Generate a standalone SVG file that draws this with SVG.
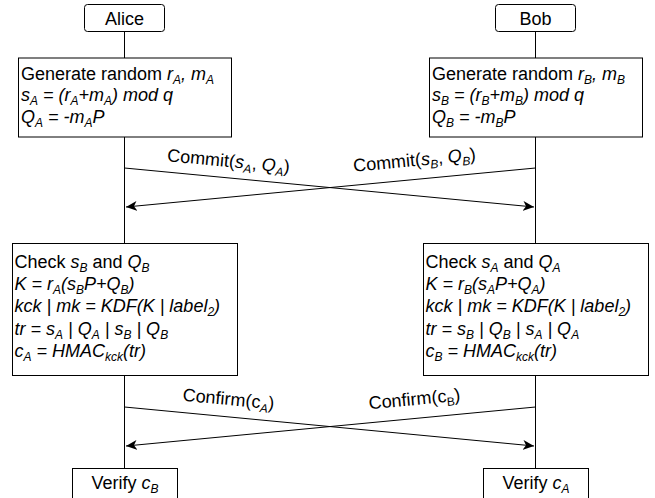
<svg xmlns="http://www.w3.org/2000/svg" width="655" height="498" viewBox="0 0 655 498">
<defs>
<style>
text{font-family:"Liberation Sans",Arial,sans-serif;font-size:18px;fill:#000}
.i{font-style:italic}
.s{font-size:12px}
.box{fill:#fff;stroke:#000;stroke-width:1}
.ln{fill:none;stroke:#000;stroke-width:1}
</style>
<marker id="ah" markerWidth="12" markerHeight="10" refX="11" refY="5" orient="auto" markerUnits="userSpaceOnUse">
<path d="M0,0 L11,5 L0,10 L3,5 Z" fill="#000"/>
</marker>
</defs>
<rect width="655" height="498" fill="#fff"/>
<g id="connectors">
<line class="ln" x1="124.5" y1="31" x2="124.5" y2="58"/>
<line class="ln" x1="124.5" y1="137" x2="124.5" y2="243"/>
<line class="ln" x1="124.5" y1="376" x2="124.5" y2="468"/>
<line class="ln" x1="535.5" y1="31" x2="535.5" y2="58"/>
<line class="ln" x1="535.5" y1="137" x2="535.5" y2="243"/>
<line class="ln" x1="535.5" y1="376" x2="535.5" y2="468"/>
<line class="ln" x1="124.5" y1="168" x2="534" y2="207" marker-end="url(#ah)"/>
<line class="ln" x1="535.5" y1="168" x2="126" y2="207" marker-end="url(#ah)"/>
<line class="ln" x1="124.5" y1="407" x2="534" y2="446" marker-end="url(#ah)"/>
<line class="ln" x1="535.5" y1="407" x2="126" y2="446" marker-end="url(#ah)"/>
<text transform="translate(228,167) rotate(5.4)" text-anchor="middle">Commit(<tspan class="i">s</tspan><tspan class="i s" dy="4">A</tspan><tspan dy="-4">, </tspan><tspan class="i">Q</tspan><tspan class="i s" dy="4">A</tspan><tspan dy="-4">)</tspan></text>
<text transform="translate(415,166) rotate(-5.4)" text-anchor="middle">Commit(<tspan class="i">s</tspan><tspan class="i s" dy="4">B</tspan><tspan dy="-4">, </tspan><tspan class="i">Q</tspan><tspan class="i s" dy="4">B</tspan><tspan dy="-4">)</tspan></text>
<text transform="translate(228,405) rotate(5.4)" text-anchor="middle">Confirm(c<tspan class="i s" dy="4">A</tspan><tspan dy="-4">)</tspan></text>
<text transform="translate(415,405) rotate(-5.4)" text-anchor="middle">Confirm(c<tspan class="s" dy="4">B</tspan><tspan dy="-4">)</tspan></text>
</g>
<g id="alice">
<rect class="box" x="84.5" y="4.5" width="80" height="27" rx="3"/>
<text x="124.5" y="24.5" text-anchor="middle">Alice</text>
</g>
<g id="bob">
<rect class="box" x="495.5" y="4.5" width="80" height="27" rx="3"/>
<text x="535.5" y="24.5" text-anchor="middle">Bob</text>
</g>
<g id="alice-generate">
<rect class="box" x="18.5" y="58" width="213" height="79"/>
<text x="21" y="80">Generate random <tspan class="i">r</tspan><tspan class="i s" dy="4">A</tspan><tspan class="i" dy="-4">, m</tspan><tspan class="i s" dy="4">A</tspan></text>
<text x="21" y="101" class="i">s<tspan class="s" dy="4">A</tspan><tspan dy="-4"> = (r</tspan><tspan class="s" dy="4">A</tspan><tspan dy="-4">+m</tspan><tspan class="s" dy="4">A</tspan><tspan dy="-4">) mod q</tspan></text>
<text x="21" y="123" class="i">Q<tspan class="s" dy="4">A</tspan><tspan dy="-4"> = -m</tspan><tspan class="s" dy="4">A</tspan><tspan dy="-4">P</tspan></text>
</g>
<g id="bob-generate">
<rect class="box" x="429.5" y="58" width="213" height="79"/>
<text x="432" y="80">Generate random <tspan class="i">r</tspan><tspan class="i s" dy="4">B</tspan><tspan class="i" dy="-4">, m</tspan><tspan class="i s" dy="4">B</tspan></text>
<text x="432" y="101" class="i">s<tspan class="s" dy="4">B</tspan><tspan dy="-4"> = (r</tspan><tspan class="s" dy="4">B</tspan><tspan dy="-4">+m</tspan><tspan class="s" dy="4">B</tspan><tspan dy="-4">) mod q</tspan></text>
<text x="432" y="123" class="i">Q<tspan class="s" dy="4">B</tspan><tspan dy="-4"> = -m</tspan><tspan class="s" dy="4">B</tspan><tspan dy="-4">P</tspan></text>
</g>
<g id="alice-check">
<rect class="box" x="12.5" y="243.5" width="225" height="132"/>
<text x="14.5" y="268">Check <tspan class="i">s</tspan><tspan class="i s" dy="4">B</tspan><tspan dy="-4"> and </tspan><tspan class="i">Q</tspan><tspan class="i s" dy="4">B</tspan></text>
<text x="14.5" y="290" class="i">K = r<tspan class="s" dy="4">A</tspan><tspan dy="-4">(s</tspan><tspan class="s" dy="4">B</tspan><tspan dy="-4">P+Q</tspan><tspan class="s" dy="4">B</tspan><tspan dy="-4">)</tspan></text>
<text x="14.5" y="312" class="i">kck | mk = KDF(K | label<tspan class="s" dy="4">2</tspan><tspan dy="-4">)</tspan></text>
<text x="14.5" y="335" class="i">tr = s<tspan class="s" dy="4">A</tspan><tspan dy="-4"> | Q</tspan><tspan class="s" dy="4">A</tspan><tspan dy="-4"> | s</tspan><tspan class="s" dy="4">B</tspan><tspan dy="-4"> | Q</tspan><tspan class="s" dy="4">B</tspan></text>
<text x="14.5" y="357" class="i">c<tspan class="s" dy="4">A</tspan><tspan dy="-4"> = HMAC</tspan><tspan class="s" dy="4">kck</tspan><tspan dy="-4">(tr)</tspan></text>
</g>
<g id="bob-check">
<rect class="box" x="423.5" y="243.5" width="225" height="132"/>
<text x="425.5" y="268">Check <tspan class="i">s</tspan><tspan class="i s" dy="4">A</tspan><tspan dy="-4"> and </tspan><tspan class="i">Q</tspan><tspan class="i s" dy="4">A</tspan></text>
<text x="425.5" y="290" class="i">K = r<tspan class="s" dy="4">B</tspan><tspan dy="-4">(s</tspan><tspan class="s" dy="4">A</tspan><tspan dy="-4">P+Q</tspan><tspan class="s" dy="4">A</tspan><tspan dy="-4">)</tspan></text>
<text x="425.5" y="312" class="i">kck | mk = KDF(K | label<tspan class="s" dy="4">2</tspan><tspan dy="-4">)</tspan></text>
<text x="425.5" y="335" class="i">tr = s<tspan class="s" dy="4">B</tspan><tspan dy="-4"> | Q</tspan><tspan class="s" dy="4">B</tspan><tspan dy="-4"> | s</tspan><tspan class="s" dy="4">A</tspan><tspan dy="-4"> | Q</tspan><tspan class="s" dy="4">A</tspan></text>
<text x="425.5" y="357" class="i">c<tspan class="s" dy="4">B</tspan><tspan dy="-4"> = HMAC</tspan><tspan class="s" dy="4">kck</tspan><tspan dy="-4">(tr)</tspan></text>
</g>
<g id="alice-verify">
<rect class="box" x="72.5" y="468.5" width="105" height="35"/>
<text x="125" y="489" text-anchor="middle">Verify <tspan class="i">c</tspan><tspan class="i s" dy="4">B</tspan></text>
</g>
<g id="bob-verify">
<rect class="box" x="483.5" y="468.5" width="105" height="35"/>
<text x="536" y="489" text-anchor="middle">Verify <tspan class="i">c</tspan><tspan class="i s" dy="4">A</tspan></text>
</g>
</svg>
